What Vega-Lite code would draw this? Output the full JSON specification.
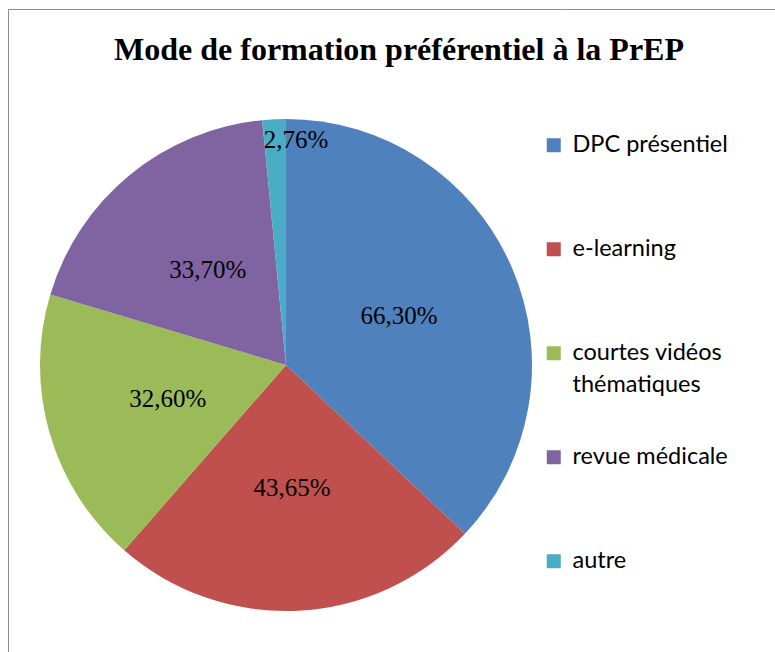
{
  "$schema": "https://vega.github.io/schema/vega-lite/v6.json",
  "padding": {"left": 7, "top": 8, "right": 0, "bottom": 0},
  "background": "white",
  "title": {
    "text": "Mode de formation préférentiel à la PrEP",
    "font": "Liberation Serif",
    "fontSize": 32,
    "fontWeight": "bold",
    "color": "#000000",
    "anchor": "middle",
    "dx": 7,
    "dy": 62
  },
  "datasets": {
    "formation": [
      {"categorie": "DPC présentiel", "valeur": 66.30, "etiquette": "66,30%", "ordre": 1},
      {"categorie": "e-learning", "valeur": 43.65, "etiquette": "43,65%", "ordre": 2},
      {"categorie": "courtes vidéos thématiques", "valeur": 32.60, "etiquette": "32,60%", "ordre": 3},
      {"categorie": "revue médicale", "valeur": 33.70, "etiquette": "33,70%", "ordre": 4},
      {"categorie": "autre", "valeur": 2.76, "etiquette": "2,76%", "ordre": 5}
    ]
  },
  "hconcat": [
    {
      "width": 556,
      "height": 712,
      "view": {"stroke": "#8c8c8c", "strokeWidth": 1, "strokeDash": [556, 1268, 712]},
      "data": {"name": "formation"},
      "layer": [
        {
          "mark": {"type": "arc", "outerRadius": 246, "strokeWidth": 0},
          "encoding": {
            "theta": {"field": "valeur", "type": "quantitative", "stack": true},
            "order": {"field": "ordre", "type": "quantitative"},
            "color": {
              "field": "categorie",
              "type": "nominal",
              "scale": {
                "domain": ["DPC présentiel", "e-learning", "courtes vidéos thématiques", "revue médicale", "autre"],
                "range": ["#4F81BD", "#C0504D", "#9BBB59", "#8064A2", "#4BACC6"]
              },
              "legend": {
                "orient": "none",
                "legendX": 534,
                "legendY": 124.5,
                "title": null,
                "padding": 0,
                "symbolType": "square",
                "symbolSize": 196,
                "symbolStrokeWidth": 0,
                "labelFont": "Lato",
                "labelFontSize": 23.5,
                "labelColor": "#000000",
                "labelLimit": 400,
                "labelOffset": 7,
                "rowPadding": 47,
                "labelExpr": "datum.label == 'courtes vidéos thématiques' ? ['courtes vidéos', 'thématiques'] : [datum.label, '']"
              }
            }
          }
        },
        {
          "mark": {"type": "text", "radius": 123, "font": "Liberation Serif", "fontSize": 25, "color": "#000000"},
          "encoding": {
            "theta": {"field": "valeur", "type": "quantitative", "stack": true},
            "order": {"field": "ordre", "type": "quantitative"},
            "detail": {"field": "categorie", "type": "nominal"},
            "text": {"field": "etiquette", "type": "nominal", "condition": {"test": "datum.ordre == 5", "value": ""}}
          }
        },
        {
          "mark": {"type": "text", "radius": 225, "dx": 21, "font": "Liberation Serif", "fontSize": 25, "color": "#000000"},
          "encoding": {
            "theta": {"field": "valeur", "type": "quantitative", "stack": true},
            "order": {"field": "ordre", "type": "quantitative"},
            "detail": {"field": "categorie", "type": "nominal"},
            "text": {"field": "etiquette", "type": "nominal", "condition": {"test": "datum.ordre != 5", "value": ""}}
          }
        }
      ]
    },
    {
      "width": 212,
      "height": 712,
      "view": {"stroke": "#8c8c8c", "strokeWidth": 1, "strokeDash": [212, 10000]},
      "data": {"values": []},
      "mark": "point"
    }
  ],
  "spacing": 0,
  "bounds": "flush",
  "resolve": {"legend": {"color": "shared"}, "scale": {"color": "shared"}},
  "config": {
    "style": {"guide-label": {"lineHeight": 32}}
  }
}
